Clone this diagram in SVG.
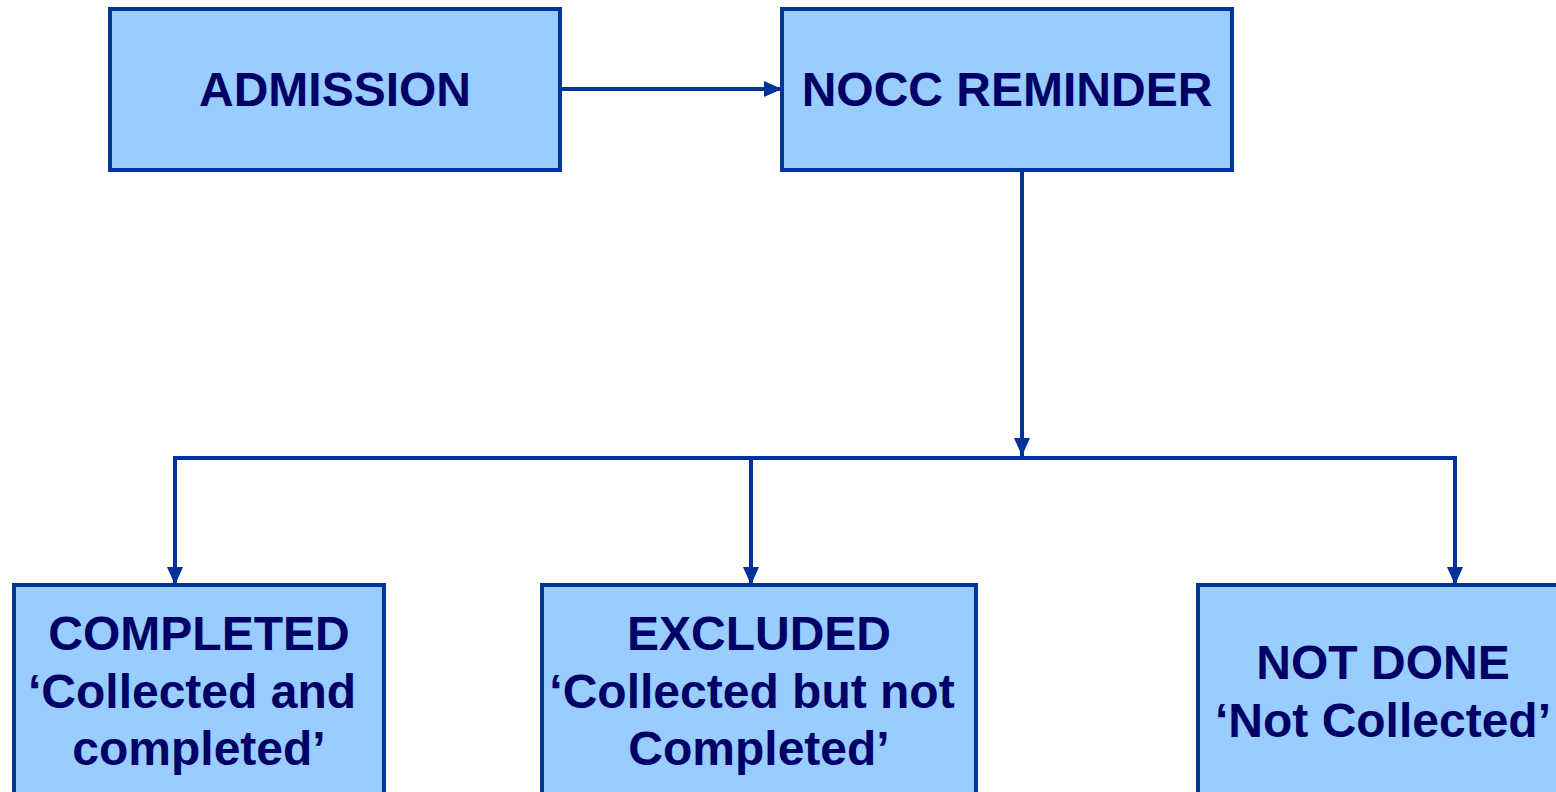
<svg xmlns="http://www.w3.org/2000/svg" width="1556" height="792" viewBox="0 0 1556 792">
<style>
.box{fill:#99CCFF;stroke:#003399;stroke-width:4}
.t{font-family:"Liberation Sans",Arial,sans-serif;font-weight:bold;font-size:48px;fill:#000066;text-anchor:middle}
.c{fill:none;stroke:#003399;stroke-width:4}
</style>
<defs>
<marker id="ah" markerUnits="userSpaceOnUse" markerWidth="18" markerHeight="16" viewBox="0 0 18 16" refX="18" refY="8" orient="auto">
<path d="M0,0 L18,8 L0,16 Z" fill="#003399"/>
</marker>
</defs>
<g id="connectors">
<line class="c" x1="560" y1="89" x2="782" y2="89" marker-end="url(#ah)"/>
<line class="c" x1="1022" y1="170" x2="1022" y2="456" marker-end="url(#ah)"/>
<polyline class="c" points="175,585 175,458 1455,458 1455,585"/>
<line class="c" x1="175" y1="460" x2="175" y2="585" marker-end="url(#ah)"/>
<line class="c" x1="751" y1="458" x2="751" y2="585" marker-end="url(#ah)"/>
<line class="c" x1="1455" y1="460" x2="1455" y2="585" marker-end="url(#ah)"/>
</g>
<g id="admission">
<rect class="box" x="110" y="9" width="450" height="161"/>
<text class="t" x="335" y="106">ADMISSION</text>
</g>
<g id="nocc">
<rect class="box" x="782" y="9" width="450" height="161"/>
<text class="t" x="1007" y="106">NOCC REMINDER</text>
</g>
<g id="completed">
<rect class="box" x="14" y="585" width="370" height="220"/>
<text class="t" x="199" y="650">COMPLETED</text>
<text class="t" x="192" y="708">‘Collected and</text>
<text class="t" x="199" y="765">completed’</text>
</g>
<g id="excluded">
<rect class="box" x="542" y="585" width="434" height="220"/>
<text class="t" x="759" y="650">EXCLUDED</text>
<text class="t" x="752" y="708">‘Collected but not</text>
<text class="t" x="759" y="765">Completed’</text>
</g>
<g id="notdone">
<rect class="box" x="1198" y="585" width="380" height="220"/>
<text class="t" x="1383" y="679">NOT DONE</text>
<text class="t" x="1383" y="737">‘Not Collected’</text>
</g>
</svg>
